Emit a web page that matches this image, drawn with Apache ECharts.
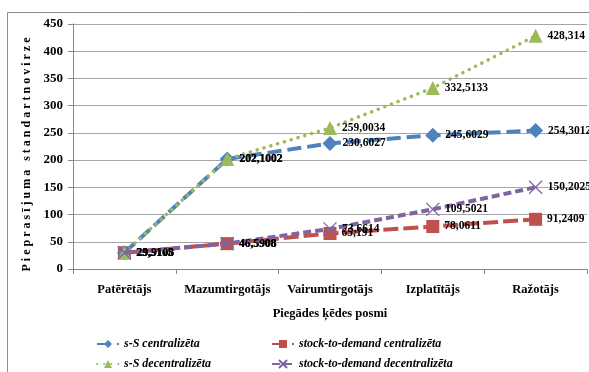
<!DOCTYPE html>
<html>
<head>
<meta charset="utf-8">
<script src="https://cdn.jsdelivr.net/npm/echarts@6/dist/echarts.min.js"></script>
<style>
  html, body { margin: 0; padding: 0; background: #fff; }
  #chart { width: 589px; height: 372px; }
</style>
</head>
<body>
<div id="chart"></div>
<script>
// Supply-chain stages (x axis)
const stages = ['Patērētājs', 'Mazumtirgotājs', 'Vairumtirgotājs', 'Izplatītājs', 'Ražotājs'];

// Demand standard deviation per stage, one array per policy
const sSCentralized = [29.9105, 202.1002, 230.6027, 245.6029, 254.3012];
const stdCentralized = [29.9105, 46.5908, 65.191, 78.0611, 91.2409];
const sSDecentralized = [29.9105, 202.1002, 259.0034, 332.5133, 428.314];
const stdDecentralized = [29.9108, 46.5908, 73.6614, 109.5021, 150.2025];

const seriesNames = [
  's-S centralizēta',
  'stock-to-demand centralizēta',
  's-S decentralizēta',
  'stock-to-demand decentralizēta'
];

const yTicks = { min: 0, max: 450, interval: 50 };

const serif = '"Liberation Serif", "Times New Roman", serif';
const crossPath = 'path://M0,0L10,10M10,0L0,10';

const valueLabel = {
  show: true,
  position: 'right',
  distance: 5,
  fontFamily: serif,
  fontWeight: 'bold',
  fontSize: 11.5,
  color: '#000',
  formatter: p => String(p.value).replace('.', ',')
};

function makeSeries(name, data, color, symbol, symbolSize, dash, width, cap, z) {
  return {
    name: name,
    type: 'line',
    data: data,
    symbol: symbol,
    symbolSize: symbolSize,
    z: z,
    lineStyle: { color: color, width: width, type: dash, cap: cap },
    itemStyle: symbol === crossPath
      ? { color: 'rgba(0,0,0,0)', borderColor: color, borderWidth: 1.3 }
      : { color: color },
    label: valueLabel,
    emphasis: { disabled: true },
    animation: false
  };
}

const chart = echarts.init(document.getElementById('chart'), null, { renderer: 'canvas' });

const legendText = {
  fontFamily: serif,
  fontWeight: 'bold',
  fontStyle: 'italic',
  fontSize: 12,
  color: '#000'
};

// Legend laid out as a 2 x 2 grid, one component per entry
const legendSlots = [
  { name: seriesNames[0], left: 91, top: 333 },
  { name: seriesNames[1], left: 266, top: 333 },
  { name: seriesNames[2], left: 91, top: 353 },
  { name: seriesNames[3], left: 266, top: 353 }
];

chart.setOption({
  animation: false,
  backgroundColor: '#fff',
  graphic: [{
    type: 'rect',
    shape: { x: 7.5, y: 12.5, width: 700, height: 500 },
    style: { fill: 'none', stroke: '#8c8c8c', lineWidth: 1 },
    silent: true,
    z: -10
  }],
  grid: { left: 73, right: 2, top: 24, bottom: 103, containLabel: false },
  xAxis: {
    type: 'category',
    data: stages,
    boundaryGap: true,
    name: 'Piegādes ķēdes posmi',
    nameLocation: 'middle',
    nameGap: 38,
    nameTextStyle: { fontFamily: serif, fontWeight: 'bold', fontSize: 12.5, color: '#000' },
    axisLine: { lineStyle: { color: '#868686', width: 1 } },
    axisTick: { show: true, alignWithLabel: false, length: 5, lineStyle: { color: '#868686' } },
    axisLabel: { interval: 0, fontFamily: serif, fontWeight: 'bold', fontSize: 12.5, color: '#000', margin: 14 }
  },
  yAxis: {
    type: 'value',
    min: yTicks.min,
    max: yTicks.max,
    interval: yTicks.interval,
    name: 'P i e p r a s ī j u m a   s t a n d a r t n o v i r z e',
    nameLocation: 'middle',
    nameRotate: 90,
    nameGap: 37,
    nameTextStyle: { fontFamily: serif, fontWeight: 'bold', fontSize: 12, color: '#000', padding: [0, 16, 0, 0] },
    axisLine: { show: true, lineStyle: { color: '#868686', width: 1 } },
    axisTick: { show: true, length: 5, lineStyle: { color: '#868686' } },
    axisLabel: { fontFamily: serif, fontWeight: 'bold', fontSize: 13, color: '#000', margin: 10 },
    splitLine: { show: true, lineStyle: { color: '#a6a6a6', width: 1 } }
  },
  legend: legendSlots.map(s => ({
    data: [s.name],
    orient: 'horizontal',
    left: s.left,
    top: s.top,
    itemWidth: 22,
    itemHeight: 10,
    textStyle: legendText,
    selectedMode: false
  })),
  series: [
    makeSeries(seriesNames[0], sSCentralized, '#4F81BD', 'diamond', [15, 15], [14, 6], 4, 'butt', 3),
    makeSeries(seriesNames[1], stdCentralized, '#C0504D', 'rect', 13, [15, 5], 4, 'butt', 2),
    makeSeries(seriesNames[2], sSDecentralized, '#9BBB59', 'triangle', 14, [0.1, 7], 3.5, 'round', 4),
    makeSeries(seriesNames[3], stdDecentralized, '#8064A2', crossPath, 13, [8, 4], 4, 'butt', 5)
  ]
});
</script>
</body>
</html>
